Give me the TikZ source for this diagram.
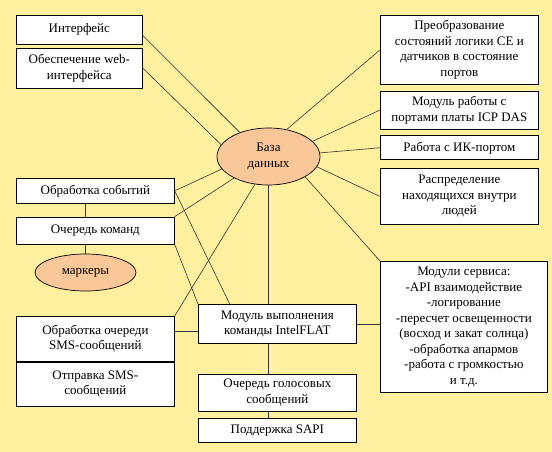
\documentclass[tikz,border=0pt]{standalone}
\usepackage{fontspec}
\setmainfont{Liberation Serif}
\usepackage{tikz}
\usetikzlibrary{shapes.geometric, positioning, calc}
\definecolor{fonzhelt}{RGB}{255,240,160}
\definecolor{persik}{RGB}{250,200,152}
\tikzstyle{block} = [rectangle, minimum width=158pt, align=center, inner sep=2pt, draw=black, fill=white, line width=0.7pt]
\tikzstyle{oval} = [ellipse, align=center, inner sep=0pt, draw=black, fill=persik, line width=0.7pt]
\tikzstyle{link} = [draw=black!80, line width=0.6pt]

\begin{document}
\begin{tikzpicture}[x=1pt, y=-1pt, every node/.style={font=\rmfamily\fontsize{13}{15.5}\selectfont}]
  % Фон
  \fill[fonzhelt] (0,0) rectangle (552,452);
  \useasboundingbox (0,0) rectangle (552,452);

  % Центр
  \node[oval, minimum width=103pt, minimum height=57pt] (db) at (268.5,156.5) {База\\данных};

  % Левая колонка
  \node[block, minimum width=126pt, minimum height=29pt, anchor=north west] (interf) at (16,15) {Интерфейс};
  \node[block, minimum width=126pt, minimum height=40pt, below=3pt of interf] (web) {Обеспечение web-\\интерфейса};

  \node[block, minimum height=25pt, anchor=north west] (events) at (16,178) {Обработка событий};
  \node[block, minimum height=27pt, below=13pt of events] (cmdq) {Очередь команд};
  \node[oval, minimum width=101pt, minimum height=37pt] (markers) at (85.5,272.5) {маркеры};

  \node[block, minimum height=45pt, anchor=north west] (smsq) at (16,316) {Обработка очереди\\SMS-сообщений};
  \node[block, minimum height=44pt, below=0pt of smsq] (smssend) {Отправка SMS-\\сообщений};

  % Нижняя колонка
  \node[block, minimum height=39pt, anchor=north west] (exec) at (198,304) {Модуль выполнения\\команды IntelFLAT};
  \node[block, minimum height=37pt, below=30pt of exec] (voice) {Очередь голосовых\\сообщений};
  \node[block, minimum height=24pt, below=7pt of voice] (sapi) {Поддержка SAPI};

  % Правая колонка
  \node[block, minimum height=69pt, anchor=north west] (transf) at (380,15) {Преобразование\\состояний логики CE и\\датчиков в состояние\\портов};
  \node[block, minimum height=38pt, below=6pt of transf] (icp) {Модуль работы с\\портами платы ICP DAS};
  \node[block, minimum height=24pt, below=6pt of icp] (ir) {Работа с ИК-портом};
  \node[block, minimum height=56pt, below=8pt of ir] (distr) {Распределение\\находящихся внутри\\людей};
  \node[block, minimum width=167pt, minimum height=131pt, anchor=north west] (service) at (380,261) {Модули сервиса:\\-API взаимодействие\\-логирование\\-пересчет освещенности\\(восход и закат солнца)\\-обработка апармов\\-работа с громкостью\\и т.д.};

  % Связи с базой данных
  \draw[link] ($(interf.north east)!0.69!(interf.south east)$) -- (db.140);
  \draw[link] (web.east) -- (db.166);
  \draw[link] (transf.west) -- (db.56);
  \draw[link] (icp.west) -- (db.19);
  \draw[link] (ir.west) -- (db.4);
  \draw[link] (distr.west) -- (db.-12);
  \draw[link] (db.-29) -- (service.north west);
  \draw[link] (events.east) -- (db.195);
  \draw[link] (cmdq.north east) -- (db.212);
  \draw[link] (db.244) -- (smsq.north east);
  \draw[link] (db.south) -- (db.south |- exec.north);

  % Связи модуля выполнения
  \draw[link] (events.east) -- ($(exec.north west)!0.2!(exec.north east)$);
  \draw[link] (cmdq.south east) -- (exec.north west);
  \draw[link] ($(smsq.north east)!0.34!(smsq.south east)$) coordinate (s1) -- (s1 -| exec.west);
  \draw[link] (exec.east) -- (exec.east -| service.west);
  \draw[link] (db.south |- exec.south) -- (db.south |- voice.north);
  \draw[link] (db.south |- voice.south) -- (db.south |- sapi.north);

  % Левые вертикальные связи
  \draw[link] (markers.north |- events.south) -- (markers.north |- cmdq.north);
  \draw[link] (markers.north |- cmdq.south) -- (markers.north);
\end{tikzpicture}
\end{document}
